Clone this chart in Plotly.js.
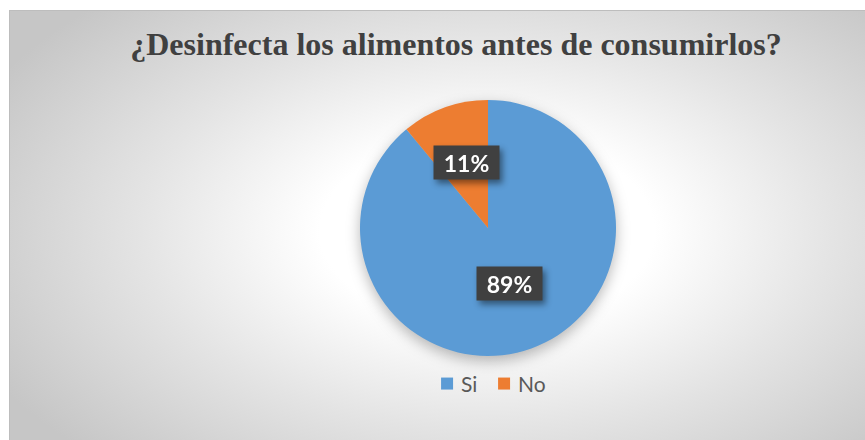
<!DOCTYPE html>
<html>
<head>
<meta charset="utf-8">
<script src="https://cdn.plot.ly/plotly-3.0.1.min.js"></script>
<style>
  html, body { margin: 0; padding: 0; background: #ffffff; }
  #wrap { position: relative; width: 865px; height: 440px; overflow: hidden; background: #ffffff; }
  #bg { position: absolute; left: 9px; top: 10px; width: 900px; height: 440px;
        border-top: 1px solid #bdbdbd; border-left: 1px solid #bdbdbd;
        background: radial-gradient(ellipse 62% 72% at 53% 50%, #ffffff 0%, #ffffff 30%, #e4e4e4 62%, #c6c6c6 100%); }
  #chart { position: absolute; left: 0; top: 0; width: 865px; height: 440px; }
  .pielayer { filter: drop-shadow(0px 5px 7px rgba(0,0,0,0.28)); }
  .annotation { filter: drop-shadow(3px 4px 3px rgba(0,0,0,0.45)); }
  .legend .scrollbox, .legend { clip-path: none !important; }
  .legend .legendtext { transform: translateX(-6px); }
</style>
</head>
<body>
<div id="wrap">
  <div id="bg"></div>
  <div id="chart"></div>
</div>
<script>
const categories = ['Si', 'No'];
const values = [89, 11];
const pctLabels = ['89%', '11%'];
const sliceColors = ['#5b9bd5', '#ed7d31'];
const chartTitle = '¿Desinfecta los alimentos antes de consumirlos?';

const total = values.reduce((a, b) => a + b, 0);
const labelFrac = 0.5;
let cum = 0;
const annotations = values.map((v, i) => {
  const mid = (cum + v / 2) / total * 2 * Math.PI;
  cum += v;
  return {
    xref: 'paper', yref: 'paper',
    x: 0.5 + 0.5 * labelFrac * Math.sin(mid),
    y: 0.5 + 0.5 * labelFrac * Math.cos(mid),
    yshift: 5,
    text: '<b>' + pctLabels[i] + '</b>',
    showarrow: false,
    bgcolor: '#404040',
    width: 63, height: 31,
    font: { family: 'Lato, "Open Sans", sans-serif', size: 23, color: '#ffffff' },
    xanchor: 'center', yanchor: 'middle'
  };
});

const data = [{
  type: 'pie',
  labels: categories,
  values: values,
  sort: false,
  direction: 'clockwise',
  rotation: 0,
  marker: { colors: sliceColors, line: { width: 0 } },
  textinfo: 'none',
  hoverinfo: 'label+percent',
  showlegend: true
}];

const layout = {
  width: 865, height: 440,
  margin: { l: 360, r: 249, t: 100, b: 84 },
  paper_bgcolor: 'rgba(0,0,0,0)',
  plot_bgcolor: 'rgba(0,0,0,0)',
  title: {
    text: '<b>' + chartTitle + '</b>',
    font: { family: '"Liberation Serif", "Times New Roman", serif', size: 32, color: '#404040' },
    xref: 'container', yref: 'container',
    x: 456 / 865, y: 1 - 44 / 440, xanchor: 'center', yanchor: 'middle'
  },
  legend: {
    orientation: 'h',
    x: 0.262, y: -0.109, xanchor: 'left', yanchor: 'middle',
    font: { family: 'Lato, "Open Sans", sans-serif', size: 21, color: '#595959' },
    bgcolor: 'rgba(0,0,0,0)',
    itemwidth: 30,
    entrywidth: 12,
    entrywidthmode: 'pixels'
  },
  annotations: annotations
};

Plotly.newPlot('chart', data, layout, { displayModeBar: false, staticPlot: true });
</script>
</body>
</html>
